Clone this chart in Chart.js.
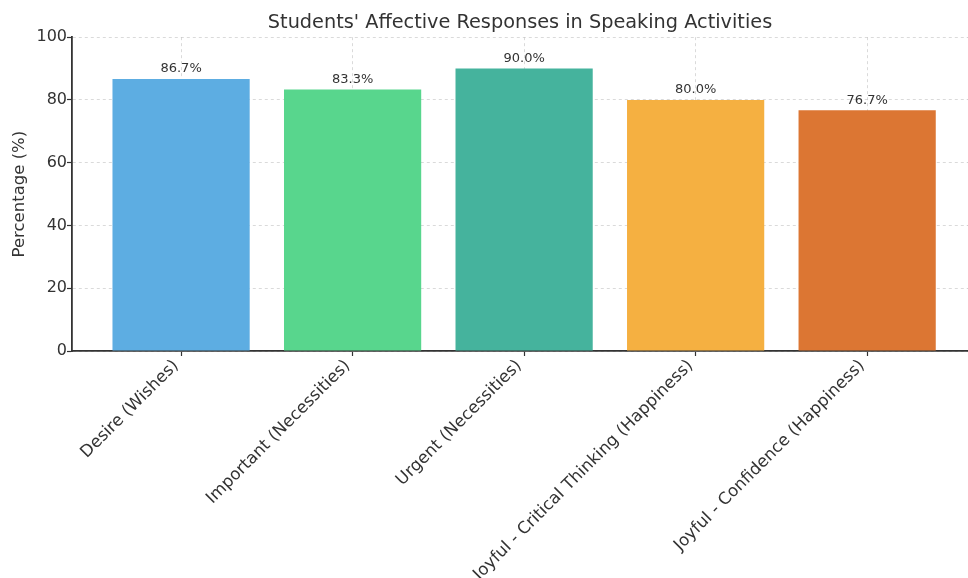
<!DOCTYPE html>
<html>
<head>
<meta charset="utf-8">
<script src="https://cdn.jsdelivr.net/npm/chart.js@4"></script>
<style>
  html, body { margin: 0; padding: 0; background: #ffffff; }
  #wrap { width: 968px; height: 578px; }
</style>
</head>
<body>
<div id="wrap"><canvas id="c" width="968" height="578"></canvas></div>
<script>
const categories = [
  "Desire (Wishes)",
  "Important (Necessities)",
  "Urgent (Necessities)",
  "Joyful - Critical Thinking (Happiness)",
  "Joyful - Confidence (Happiness)"
];
const percentages = [86.7, 83.3, 90.0, 80.0, 76.7];
const barColors = ["#5DADE2", "#58D68D", "#45B39D", "#F5B041", "#DC7633"];
const yTicks = [0, 20, 40, 60, 80, 100];
const chartTitle = "Students' Affective Responses in Speaking Activities";
const yTitle = "Percentage (%)";

const FONT = "'DejaVu Sans', sans-serif";

const valueLabels = {
  id: 'valueLabels',
  afterDatasetsDraw(chart) {
    const ctx = chart.ctx;
    const meta = chart.getDatasetMeta(0);
    ctx.save();
    ctx.font = "13px " + FONT;
    ctx.fillStyle = "#333333";
    ctx.textAlign = "center";
    ctx.textBaseline = "alphabetic";
    meta.data.forEach((bar, i) => {
      ctx.fillText(percentages[i].toFixed(1) + "%", bar.x, bar.y - 6.5);
    });
    ctx.restore();
  }
};

new Chart(document.getElementById('c'), {
  type: 'bar',
  data: {
    datasets: [{
      data: percentages.map((v, i) => ({ x: i, y: v })),
      backgroundColor: barColors,
      borderWidth: 0,
      categoryPercentage: 1.0,
      barPercentage: 0.8
    }]
  },
  options: {
    responsive: false,
    animation: false,
    layout: { padding: 0 },
    plugins: {
      legend: { display: false },
      tooltip: { enabled: false },
      title: {
        display: true,
        fullSize: false,
        text: chartTitle,
        color: "#333333",
        font: { family: FONT, size: 19.3, weight: 'normal' },
        padding: { top: 11, bottom: 3 }
      }
    },
    scales: {
      x: {
        type: 'linear',
        min: -0.636,
        max: 4.588,
        offset: false,
        z: 1,
        afterBuildTicks(scale) { scale.ticks = categories.map((_, i) => ({ value: i })); },
        afterFit(scale) { scale.height = 227; },
        ticks: {
          callback: (v) => categories[v] ?? '',
          color: "#333333",
          font: { family: FONT, size: 16.7 },
          minRotation: 45,
          maxRotation: 45,
          padding: 0,
          labelOffset: -5,
          autoSkip: false
        },
        grid: {
          offset: false,
          color: "rgba(190,190,190,0.7)",
          lineWidth: 0.8,
          drawTicks: true,
          tickLength: 5,
          tickColor: "#333333",
          tickBorderDash: [],
          tickWidth: 1.2
        },
        border: { display: true, color: "#333333", width: 1.8, dash: [3, 3] }
      },
      y: {
        min: 0,
        max: 100,
        z: 1,
        afterBuildTicks(scale) { scale.ticks = yTicks.map(v => ({ value: v })); },
        afterFit(scale) { scale.width = 72; },
        ticks: {
          color: "#333333",
          font: { family: FONT, size: 16 },
          padding: 0
        },
        grid: {
          color: "rgba(190,190,190,0.7)",
          lineWidth: 0.8,
          drawTicks: true,
          tickLength: 5,
          tickColor: "#333333",
          tickBorderDash: [],
          tickWidth: 1.2
        },
        border: { display: true, color: "#333333", width: 1.8, dash: [3, 3] },
        title: {
          display: true,
          text: yTitle,
          color: "#333333",
          font: { family: FONT, size: 16.5 },
          padding: { top: 10, bottom: 0 }
        }
      }
    }
  },
  plugins: [valueLabels]
});
</script>
</body>
</html>
